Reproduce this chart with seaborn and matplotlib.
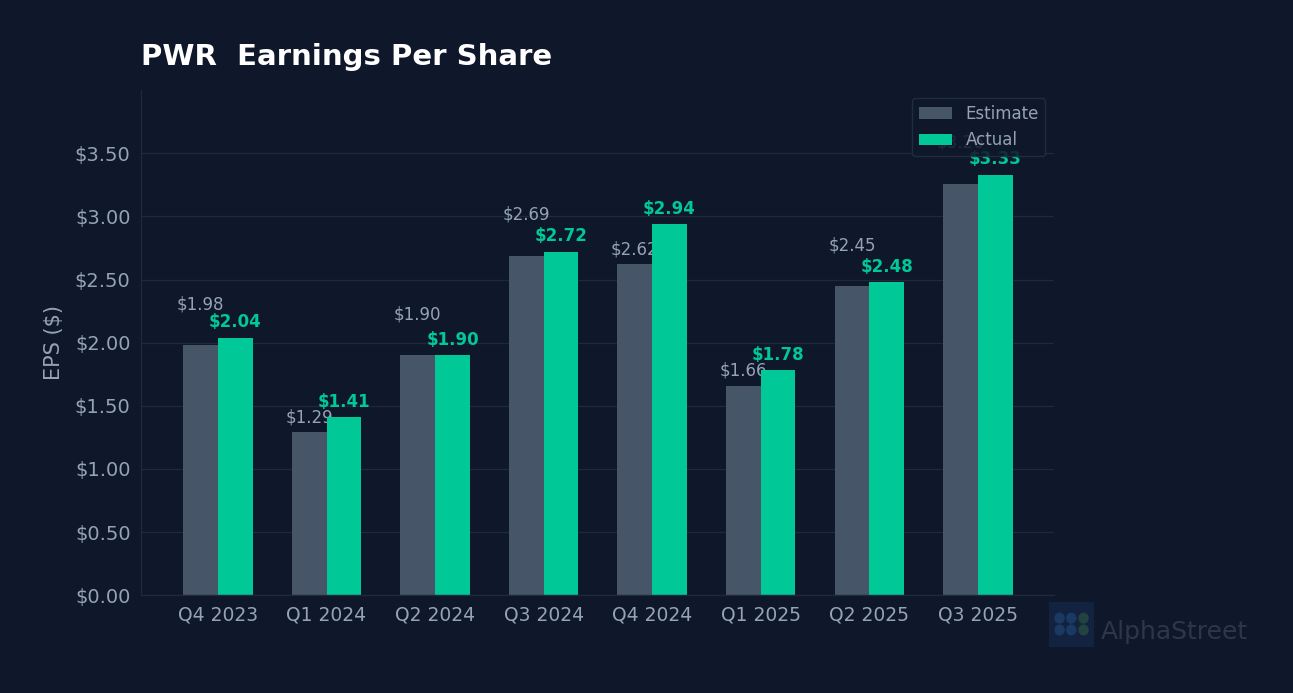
import matplotlib
matplotlib.use("Agg")
import matplotlib.pyplot as plt
import matplotlib.patches as mpatches
import seaborn as sns
import pandas as pd

quarters = ["Q4 2023", "Q1 2024", "Q2 2024", "Q3 2024", "Q4 2024", "Q1 2025", "Q2 2025", "Q3 2025"]
estimate = [1.98, 1.29, 1.90, 2.69, 2.62, 1.66, 2.45, 3.26]
actual = [2.04, 1.41, 1.90, 2.72, 2.94, 1.78, 2.48, 3.33]
yticks = [0, 0.5, 1.0, 1.5, 2.0, 2.5, 3.0, 3.5]

BG = "#0f172a"
EST_COLOR = "#475569"
ACT_COLOR = "#00c896"
MUTED = "#94a3b8"
GRID = "#1e293b"

df = pd.DataFrame({
    "Quarter": quarters * 2,
    "EPS": estimate + actual,
    "Type": ["Estimate"] * len(quarters) + ["Actual"] * len(quarters),
})

sns.set_style("dark")
plt.rcParams["font.family"] = ["DejaVu Sans"]

fig, ax = plt.subplots(figsize=(12.93, 6.93), dpi=100)
fig.patch.set_facecolor(BG)
ax.set_facecolor(BG)
fig.subplots_adjust(left=0.109, right=0.815, top=0.87, bottom=0.141)

sns.barplot(data=df, x="Quarter", y="EPS", hue="Type", order=quarters,
            hue_order=["Estimate", "Actual"],
            palette={"Estimate": EST_COLOR, "Actual": ACT_COLOR},
            width=0.64, gap=0, saturation=1, linewidth=0, edgecolor="none",
            ax=ax, zorder=2)

# value labels - lift the estimate label when it would collide with the actual one
for i, (e, a) in enumerate(zip(estimate, actual)):
    off = 0.25 if a - e < 0.1 else 0.05
    ax.text(i - 0.16, e + off, f"${e:.2f}", ha="center", va="bottom",
            color=MUTED, fontsize=12, zorder=1)
    ax.text(i + 0.16, a + 0.05, f"${a:.2f}", ha="center", va="bottom",
            color=ACT_COLOR, fontsize=12, fontweight="bold", zorder=1)

ax.set_xlim(-0.71, 7.7)
ax.set_ylim(0, 4.0)
ax.set_yticks(yticks)
ax.set_yticklabels([f"${v:.2f}" for v in yticks])
ax.tick_params(colors=MUTED, length=4, width=1.5)
ax.tick_params(axis="x", labelsize=13.5)
ax.tick_params(axis="y", labelsize=14)
ax.grid(axis="y", color=GRID, linewidth=1, zorder=0)
ax.grid(axis="x", visible=False)
for side in ["top", "right"]:
    ax.spines[side].set_visible(False)
for side in ["left", "bottom"]:
    ax.spines[side].set_visible(True)
    ax.spines[side].set_color(GRID)
    ax.spines[side].set_linewidth(1)

ax.set_xlabel("")
ax.set_ylabel("EPS ($)", color=MUTED, fontsize=15, labelpad=8)
ax.set_title("PWR  Earnings Per Share", loc="left", color="white",
             fontsize=21, fontweight="bold", pad=18)

leg = ax.legend(loc="upper right", fontsize=12, frameon=True,
                facecolor=BG, edgecolor="#243045", framealpha=0.85,
                bbox_to_anchor=(1.0, 1.0), borderaxespad=0.5)
for t in leg.get_texts():
    t.set_color(MUTED)
leg.set_zorder(5)

# watermark
logo = mpatches.FancyBboxPatch((0.811, 0.066), 0.035, 0.066, boxstyle="square,pad=0",
                               transform=fig.transFigure, facecolor="#13223f",
                               edgecolor="none")
fig.patches.append(logo)
for (cx, cy, col) in [(0.8195, 0.108, "#1b3a63"), (0.8285, 0.108, "#1b3a63"),
                      (0.838, 0.108, "#22433f"), (0.8195, 0.091, "#1b3a63"),
                      (0.8285, 0.091, "#1b3a63"), (0.838, 0.091, "#22433f")]:
    fig.patches.append(mpatches.Ellipse((cx, cy), 0.008, 0.016, transform=fig.transFigure,
                                        facecolor=col, edgecolor="none"))
fig.text(0.851, 0.088, "AlphaStreet", color="#2c3748", fontsize=18,
         ha="left", va="center")

fig.savefig("out.png", dpi=100, facecolor=BG)
